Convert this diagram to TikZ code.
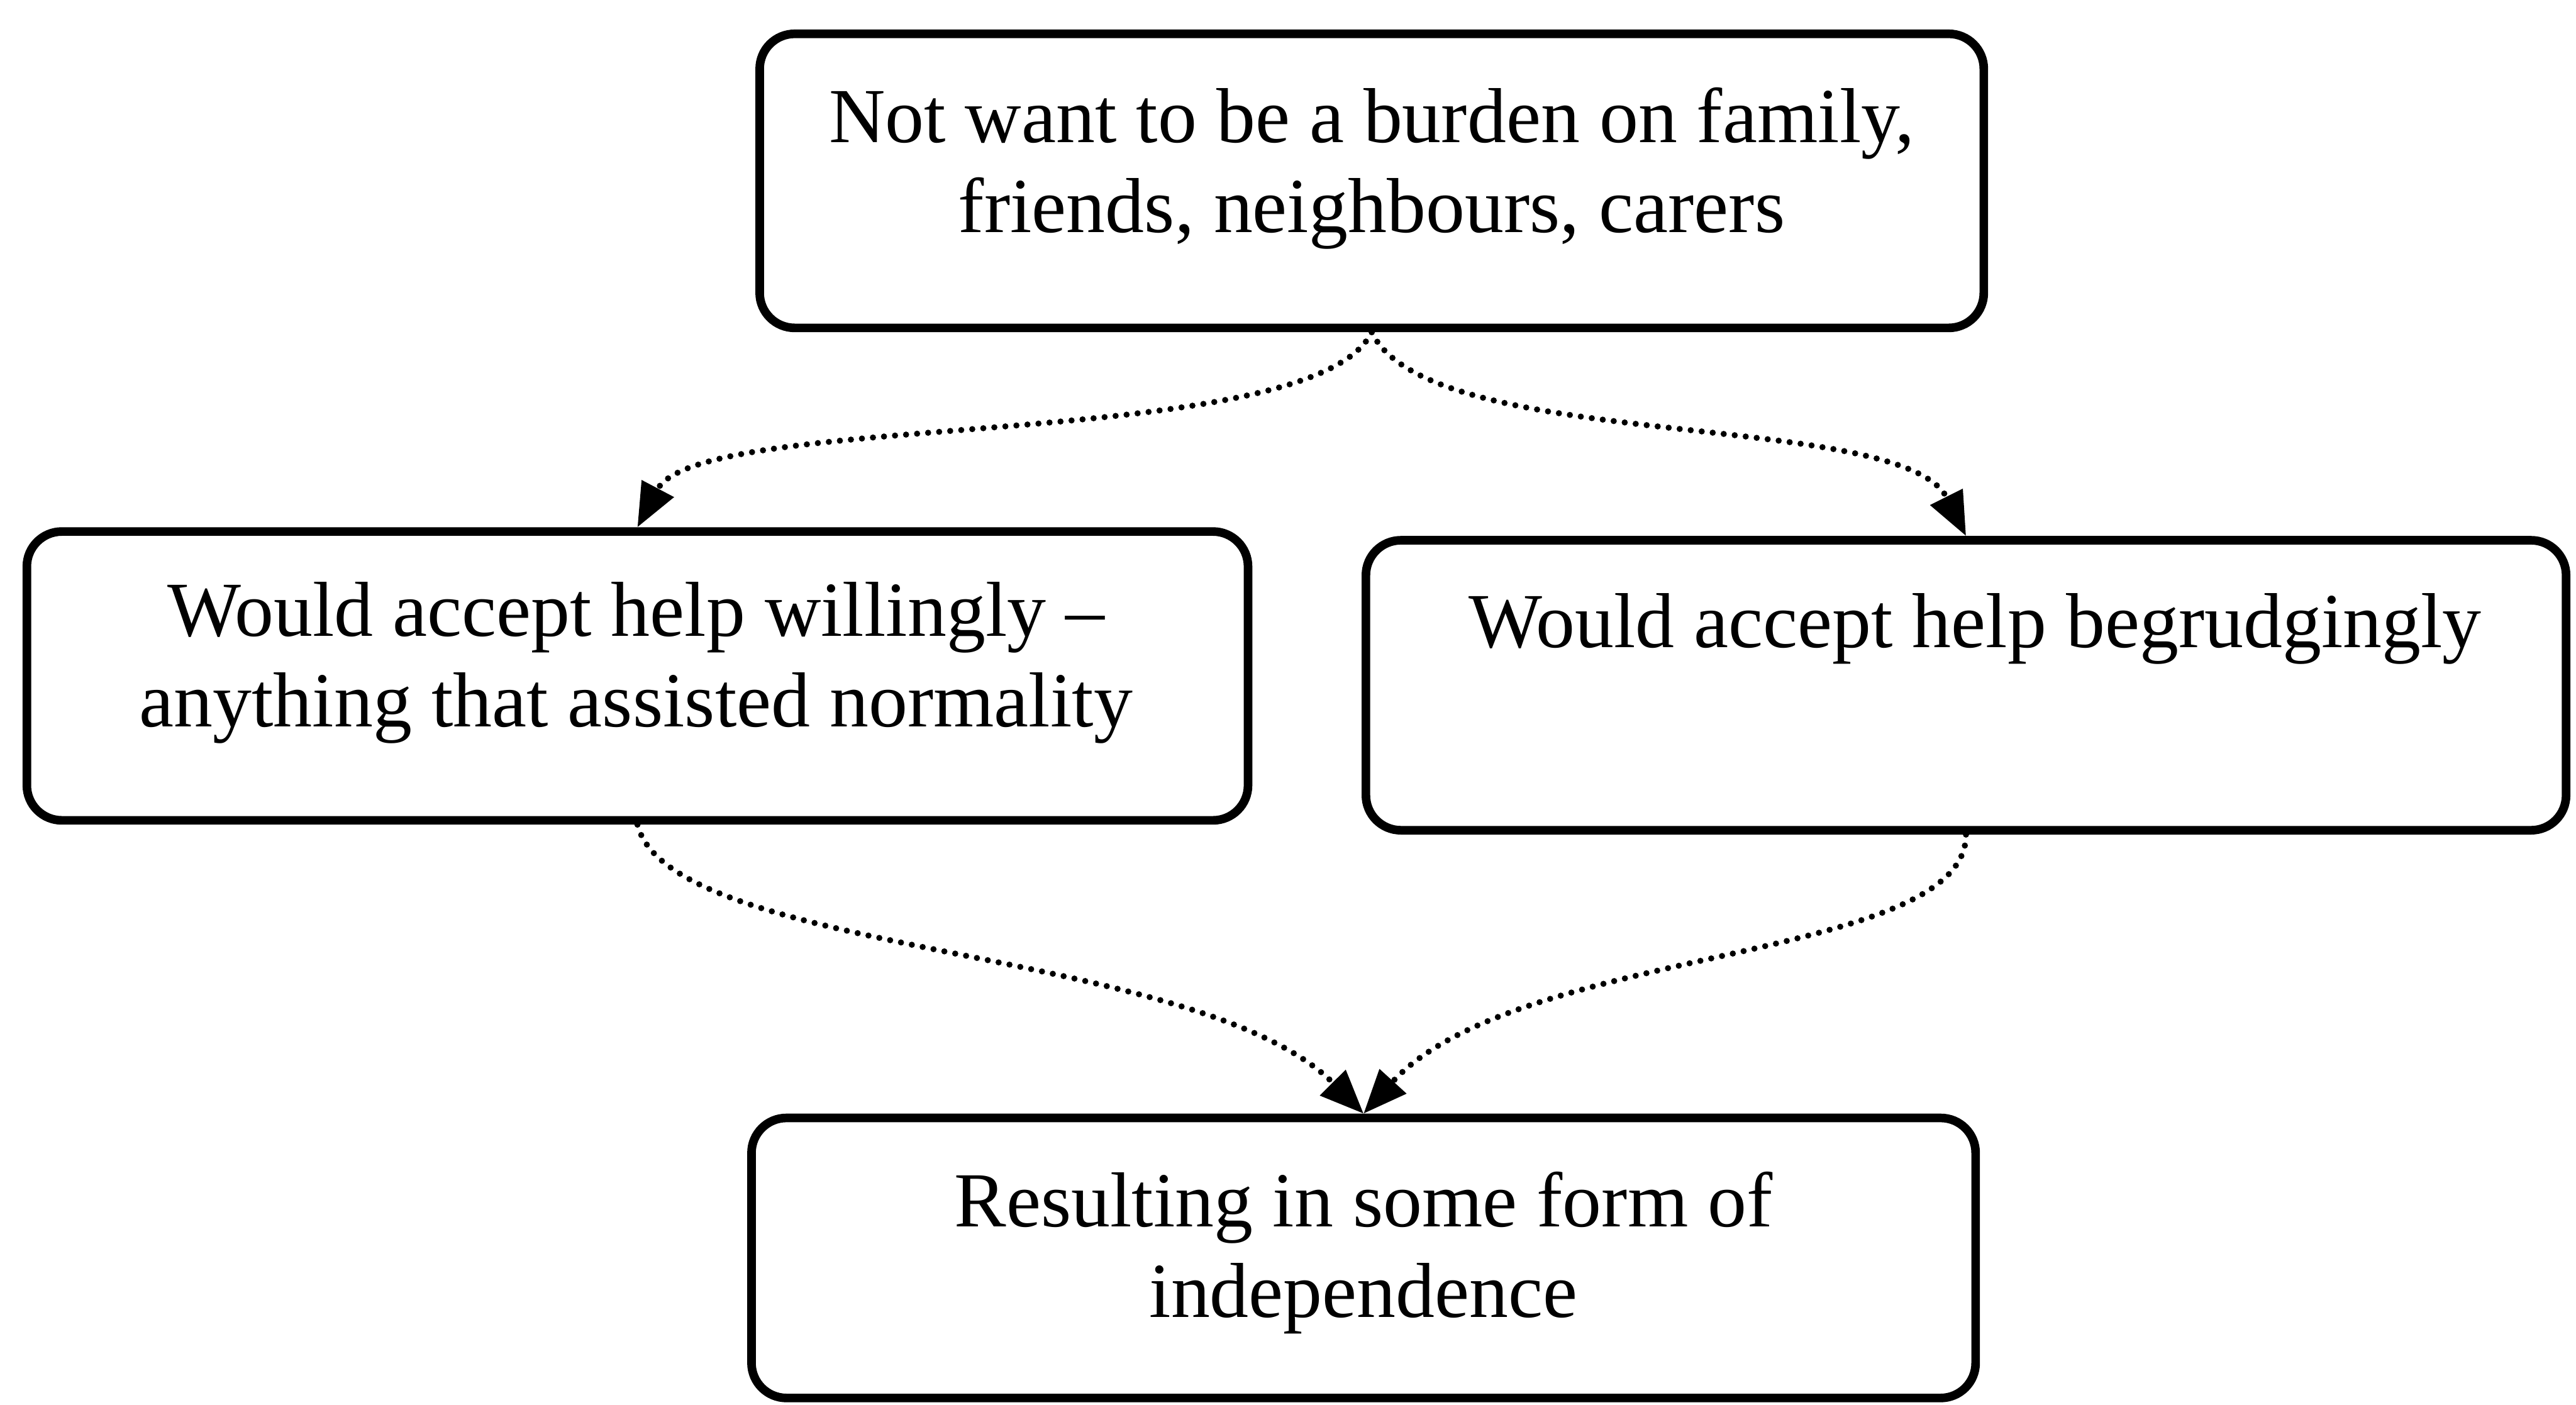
\documentclass[tikz,border=0pt]{standalone}
\usepackage{fontspec}
\setmainfont{Liberation Serif}
\usetikzlibrary{arrows.meta}
\begin{document}
\begin{tikzpicture}[x=1cm,y=1cm,
  box/.style={draw, line width=4.2pt, rounded corners=0.6cm, inner sep=0pt},
  lbl/.style={font=\fontsize{38}{44}\selectfont, align=center, inner sep=0pt},
  flow/.style={line width=3pt, line cap=round, dash pattern=on 0pt off 5.4pt,
    -{Triangle[length=7.5mm,width=6mm]}}
]
\useasboundingbox (0,0) rectangle (44.15,24.08);

% boxes
\node[box, minimum width=20.98cm, minimum height=5.04cm] (top) at (23.51,20.98) {};
\node[box, minimum width=20.93cm, minimum height=4.95cm] (lbox) at (10.925,12.495) {};
\node[box, minimum width=20.57cm, minimum height=4.97cm] (rbox) at (33.695,12.335) {};
\node[box, minimum width=20.98cm, minimum height=4.80cm] (bbox) at (23.37,2.52) {};

% texts
\node[lbl] (ttop) at (23.51,21.195) {Not want to be a burden on family,\\friends, neighbours, carers};
\node[lbl] (tleft) at (10.90,12.72) {Would accept help willingly --\\anything that assisted normality};
\node[lbl] (tright) at (33.85,13.30) {Would accept help begrudgingly};
\node[lbl] (tbot) at (23.37,2.61) {Resulting in some form of\\independence};

% connectors
\draw[flow] (top.south) .. controls (22.50,16.30) and (12.00,17.08) .. (lbox.north);
\draw[flow] (top.south) .. controls (24.50,16.30) and (32.60,17.08) .. (rbox.north);
\draw[flow] (lbox.south) .. controls (11.50,7.68) and (20.50,7.88) .. (bbox.north);
\draw[flow] (rbox.south) .. controls (33.70,7.58) and (26.00,7.88) .. (bbox.north);
\end{tikzpicture}
\end{document}
